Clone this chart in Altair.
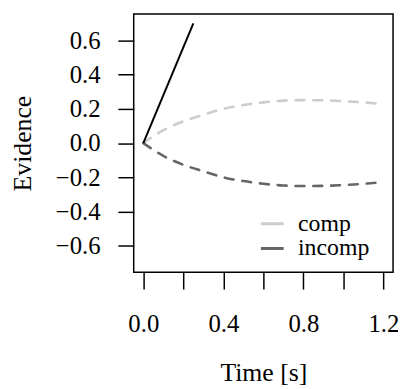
import altair as alt
import pandas as pd

# ---- data ----
time = [0.0, 0.1, 0.2, 0.3, 0.4, 0.5, 0.6, 0.7, 0.8, 0.9, 1.0, 1.1, 1.16]
comp = [0.0, 0.075, 0.127, 0.165, 0.200, 0.222, 0.238, 0.248, 0.251, 0.250, 0.245, 0.238, 0.232]
incomp = [0.0, -0.075, -0.127, -0.165, -0.200, -0.222, -0.238, -0.248, -0.251, -0.250, -0.245, -0.238, -0.232]
drift_t = [0.0, 0.25]
drift_v = [0.0, 0.70]
conds = ["comp", "incomp"]
colors = ["#cccccc", "#666666"]
x_ticks = [0.0, 0.2, 0.4, 0.6, 0.8, 1.0, 1.2]
y_ticks = [-0.6, -0.4, -0.2, 0.0, 0.2, 0.4, 0.6]

df = pd.DataFrame({
    "t": time + time,
    "v": comp + incomp,
    "cond": [conds[0]] * len(time) + [conds[1]] * len(time),
    "style": ["dashed"] * (2 * len(time)),
})
drift = pd.DataFrame({"t": drift_t, "v": drift_v})

FONT = "Liberation Serif"
FS = 25
TFS = 26

xscale = alt.Scale(domain=[-0.048, 1.248], nice=False, zero=False)
yscale = alt.Scale(domain=[-0.755, 0.755], nice=False, zero=False)

xaxis = alt.Axis(
    values=x_ticks, title="Time [s]", domain=False, grid=False,
    tickSize=17, tickColor="black", tickWidth=1.5,
    labelExpr="round(datum.value*10) % 4 == 0 ? format(datum.value, '.1f') : ''",
    labelFont=FONT, labelFontSize=FS, labelColor="black",
    labelBaseline="alphabetic", labelPadding=43, labelOverlap=False, labelFlush=False,
    titleFont=FONT, titleFontSize=TFS, titleFontWeight="normal", titleColor="black",
    titleX=131, titleY=109, titleBaseline="alphabetic", titleAlign="center",
)
yaxis = alt.Axis(
    values=y_ticks, format=".1f", title="Evidence", domain=False, grid=False,
    tickSize=16, tickColor="black", tickWidth=1.5,
    labelFont=FONT, labelFontSize=FS, labelColor="black",
    labelAlign="right", labelBaseline="middle", labelPadding=18,
    labelOverlap=False, labelFlush=False,
    titleFont=FONT, titleFontSize=TFS, titleFontWeight="normal", titleColor="black",
    titleX=-112, titleY=130.5, titleAngle=270, titleBaseline="middle", titleAlign="center",
)

lines = alt.Chart(df).mark_line(strokeWidth=2.6, strokeCap="round", interpolate="monotone").encode(
    x=alt.X("t:Q", scale=xscale, axis=xaxis),
    y=alt.Y("v:Q", scale=yscale, axis=yaxis),
    color=alt.Color("cond:N", scale=alt.Scale(domain=conds, range=colors),
                    legend=alt.Legend(title=None, orient="none", legendX=127, legendY=199,
                                      symbolType="stroke", symbolSize=529, symbolStrokeWidth=3,
                                      labelFont=FONT, labelFontSize=24, labelColor="black",
                                      labelOffset=13, rowPadding=0, padding=0)),
    strokeDash=alt.StrokeDash("style:N", scale=alt.Scale(domain=["dashed"], range=[[9, 9]]), legend=None),
)

drift_line = alt.Chart(drift).mark_line(color="black", strokeWidth=2).encode(
    x=alt.X("t:Q", scale=xscale, axis=xaxis),
    y=alt.Y("v:Q", scale=yscale, axis=yaxis),
)

chart = alt.layer(lines, drift_line).properties(
    width=262, height=261,
    padding={"left": 127, "top": 4, "right": 5, "bottom": 116},
    autosize="none",
).configure(font=FONT).configure_axis(labelFont=FONT, titleFont=FONT).configure_view(stroke="black", strokeWidth=1.5)

chart.save("out.html", embed_options={"renderer": "svg", "actions": False})
